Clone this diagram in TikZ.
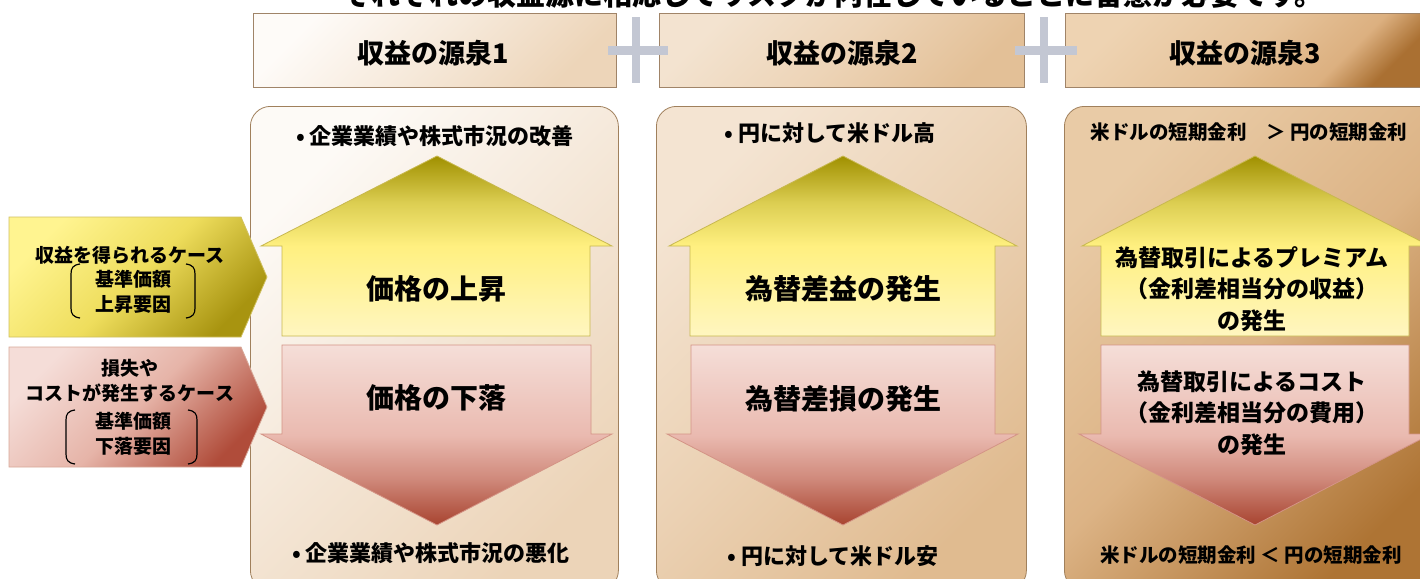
\documentclass[tikz,border=0pt]{standalone}
\usepackage{fontspec}
\setmainfont{Noto Sans CJK JP}
\definecolor{hdrline}{HTML}{A08468}
\definecolor{pnlline}{HTML}{A0805C}
\definecolor{plusc}{HTML}{C3C7D3}
\definecolor{hAa}{HTML}{FEFBF8}\definecolor{hAm}{HTML}{F6E9DA}\definecolor{hAb}{HTML}{EDD5B9}
\definecolor{hBa}{HTML}{F3E3D0}\definecolor{hBm}{HTML}{EDD4B7}\definecolor{hBb}{HTML}{E3C097}
\definecolor{hCa}{HTML}{EED3B2}\definecolor{hCm}{HTML}{E6C39A}\definecolor{hCn}{HTML}{DCB080}\definecolor{hCb}{HTML}{AA7032}
\definecolor{pAa}{HTML}{FDFAF6}\definecolor{pAm}{HTML}{F4E6D6}\definecolor{pAb}{HTML}{ECD4B8}
\definecolor{pBa}{HTML}{F4E4D2}\definecolor{pBm}{HTML}{EBD1B3}\definecolor{pBb}{HTML}{E0BB90}
\definecolor{pCa}{HTML}{E9CBA6}\definecolor{pCm}{HTML}{DCB385}\definecolor{pCb}{HTML}{AE7434}
\definecolor{upA}{HTML}{A09000}\definecolor{upD}{HTML}{DCCE52}\definecolor{upB}{HTML}{FFF080}\definecolor{upC}{HTML}{FFF6C0}
\definecolor{upL}{HTML}{C8B850}
\definecolor{dnA}{HTML}{F5DED8}\definecolor{dnB}{HTML}{EABAB0}\definecolor{dnD}{HTML}{D08A7C}\definecolor{dnC}{HTML}{A84430}
\definecolor{dnL}{HTML}{D49486}
\definecolor{yA}{HTML}{FFF490}\definecolor{yM}{HTML}{EEDD5C}\definecolor{yB}{HTML}{A89410}\definecolor{yL}{HTML}{D0C060}
\definecolor{rA}{HTML}{F5DDD8}\definecolor{rM}{HTML}{E6B4A8}\definecolor{rB}{HTML}{B04C3A}\definecolor{rL}{HTML}{D8A898}
\pgfdeclareverticalshading{upsh}{100bp}{color(0bp)=(upC); color(25bp)=(upC); color(50bp)=(upB); color(62bp)=(upD); color(75bp)=(upA); color(100bp)=(upA)}
\pgfdeclareverticalshading{dnsh}{100bp}{color(0bp)=(dnC); color(25bp)=(dnC); color(38bp)=(dnD); color(50bp)=(dnB); color(75bp)=(dnA); color(100bp)=(dnA)}
\pgfdeclareverticalshading{hthreesh}{100bp}{color(0bp)=(hCb); color(25bp)=(hCb); color(34bp)=(hCn); color(50bp)=(hCm); color(75bp)=(hCa); color(100bp)=(hCa)}
\tikzset{
  hdr/.style={draw=hdrline, line width=0.8pt, anchor=north west, minimum height=74pt, inner sep=0pt},
  hdrtext/.style={font=\bfseries\fontsize{27}{27}\selectfont, inner sep=0pt},
  pnl/.style={draw=pnlline, line width=0.8pt, rounded corners=20pt, anchor=north west, inner sep=0pt},
  plusbar/.style={fill=plusc},
  uparrow/.style={draw=upL, line width=0.8pt, shading=upsh},
  dnarrow/.style={draw=dnL, line width=0.8pt, shading=dnsh},
  ypent/.style={draw=yL, line width=0.8pt, left color=yA, right color=yB, middle color=yM, shading angle=45},
  rpent/.style={draw=rL, line width=0.8pt, left color=rA, right color=rB, middle color=rM, shading angle=45},
  brk/.style={draw=black, line width=1.2pt},
  bul/.style={font=\bfseries\fontsize{22}{22}\selectfont, inner sep=0pt},
  big/.style={font=\bfseries\fontsize{28}{28}\selectfont, inner sep=0pt},
  mid/.style={font=\bfseries\fontsize{23}{31.5}\selectfont, inner sep=0pt, align=center},
  rate/.style={font=\bfseries\fontsize{19.5}{19.5}\selectfont, inner sep=0pt},
  side/.style={font=\bfseries\fontsize{19}{25}\selectfont, inner sep=0pt, align=center}
}
\begin{document}
\begin{tikzpicture}[x=1pt,y=-1pt]
\useasboundingbox (0,0) rectangle (1420,578);
\clip (0,0) rectangle (1420,578);
\fill[white] (0,0) rectangle (1420,578);
% title (cut off at top, as in the reference)
\node[anchor=base, font=\bfseries\fontsize{29}{29}\selectfont, inner sep=0pt] (title) at (833,6)
  {それぞれの収益源に相応してリスクが内在していることに留意が必要です。};
% header boxes
\node[hdr, minimum width=363pt, left color=hAa, right color=hAb, middle color=hAm, shading angle=45] (h1) at (253,13) {};
\node[hdr, minimum width=365pt, left color=hBa, right color=hBb, middle color=hBm, shading angle=45] (h2) at (659,13) {};
\node[hdr, minimum width=370pt, shading=hthreesh, shading angle=45] (h3) at (1065,13) {};
\node[hdrtext] (h1t) at (433,53) {収益の源泉1};
\node[hdrtext] (h2t) at (842,53) {収益の源泉2};
\node[hdrtext] (h3t) at (1245,53) {収益の源泉3};
% plus signs
\fill[plusbar] (632,17) rectangle (640,83);
\fill[plusbar] (608,46) rectangle (668,55);
\fill[plusbar] (1040,17) rectangle (1048,83);
\fill[plusbar] (1015,46) rectangle (1077,55);
% panels
\node[pnl, minimum width=368pt, minimum height=484pt, left color=pAa, right color=pAb, middle color=pAm, shading angle=45] (p1) at (250,106) {};
\node[pnl, minimum width=370pt, minimum height=484pt, left color=pBa, right color=pBb, middle color=pBm, shading angle=45] (p2) at (656,106) {};
\node[pnl, minimum width=380pt, minimum height=484pt, left color=pCa, right color=pCb, middle color=pCm, shading angle=45] (p3) at (1064,106) {};
% arrows panel 1
\path[uparrow] (437,156) -- (612,246) -- (590,246) -- (590,336) -- (282,336) -- (282,246) -- (261,246) -- cycle;
\path[dnarrow] (282,345) -- (591,345) -- (591,434) -- (612,434) -- (437,525) -- (261,434) -- (282,434) -- cycle;
% arrows panel 2
\path[uparrow] (843,156) -- (1017,246) -- (995,246) -- (995,336) -- (690,336) -- (690,246) -- (669,246) -- cycle;
\path[dnarrow] (691,345) -- (995,345) -- (995,434) -- (1018,434) -- (843,525) -- (667,434) -- (691,434) -- cycle;
% arrows panel 3
\path[uparrow] (1255,156) -- (1430,246) -- (1409,246) -- (1409,336) -- (1101,336) -- (1101,246) -- (1082,246) -- cycle;
\path[dnarrow] (1101,345) -- (1409,345) -- (1409,434) -- (1431,434) -- (1255,525) -- (1079,434) -- (1101,434) -- cycle;
% panel texts
\node[bul] (p1top) at (435,136) {•\ 企業業績や株式市況の改善};
\node[bul] (p1bot) at (431,553) {•\ 企業業績や株式市況の悪化};
\node[big] (p1up) at (436,289) {価格の上昇};
\node[big] (p1dn) at (436,398) {価格の下落};
\node[bul] (p2top) at (830,133) {•\ 円に対して米ドル高};
\node[bul] (p2bot) at (833,556) {•\ 円に対して米ドル安};
\node[big] (p2up) at (843,289) {為替差益の発生};
\node[big] (p2dn) at (843,399) {為替差損の発生};
\node[rate] (p3top) at (1249,132) {米ドルの短期金利　＞\ 円の短期金利};
\node[rate] (p3bot) at (1251,555) {米ドルの短期金利\ ＜\ 円の短期金利};
\node[mid] (p3up) at (1252,289) {為替取引によるプレミアム\\（金利差相当分の収益）\\の発生};
\node[mid] (p3dn) at (1252,413) {為替取引によるコスト\\（金利差相当分の費用）\\の発生};
% left pentagons
\path[ypent] (9,217) -- (241,217) -- (267,277) -- (241,337) -- (9,337) -- cycle;
\path[rpent] (9,347) -- (241,347) -- (267,407) -- (241,467) -- (9,467) -- cycle;
\node[side] (yt1) at (130,255) {収益を得られるケース};
\node[side] (yt2) at (133,292) {基準価額\\上昇要因};
\node[side] (rt1) at (130,381) {損失や\\コストが発生するケース};
\node[side] (rt2) at (133,434) {基準価額\\下落要因};
% brackets
\draw[brk] (80,264) .. controls (73,265) and (71,268) .. (71,274) -- (71,308) .. controls (71,314) and (73,317) .. (80,318);
\draw[brk] (186,264) .. controls (193,265) and (195,268) .. (195,274) -- (195,308) .. controls (195,314) and (193,317) .. (186,318);
\draw[brk] (75,410) .. controls (68,411) and (66,414) .. (66,420) -- (66,454) .. controls (66,460) and (68,463) .. (75,464);
\draw[brk] (188,410) .. controls (195,411) and (197,414) .. (197,420) -- (197,454) .. controls (197,460) and (195,463) .. (188,464);
\end{tikzpicture}
\end{document}
